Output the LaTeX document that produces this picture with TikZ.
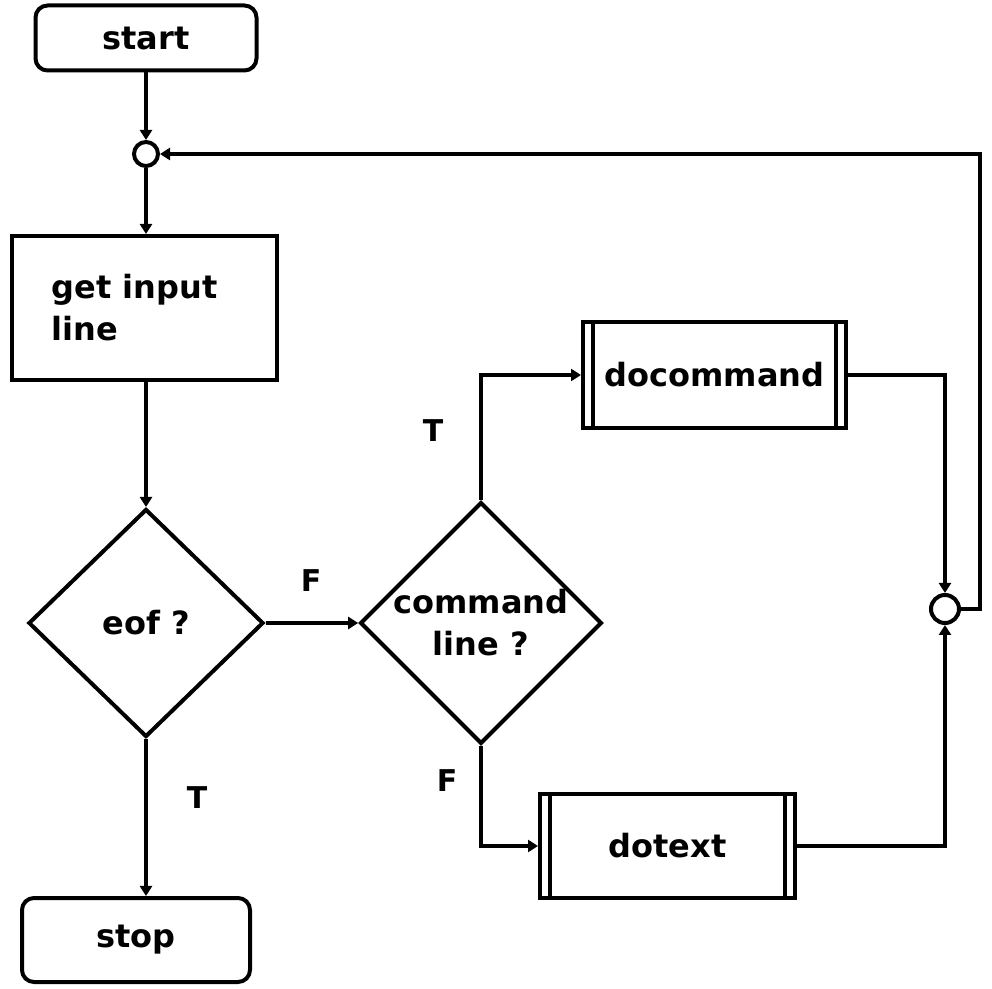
\documentclass[tikz,border=0pt]{standalone}
\usepackage{fontspec}
\setmainfont{DejaVu Sans}
\usetikzlibrary{shapes.geometric,arrows.meta}

\tikzset{
  every node/.style={font=\fontsize{16pt}{19pt}\selectfont\bfseries},
  base/.style={draw, line width=2pt, inner sep=0pt},
  terminal/.style={base, rectangle, rounded corners=6pt},
  process/.style={base, rectangle},
  decision/.style={base, diamond},
  joint/.style={base, circle, minimum size=12pt},
  subproc/.style={base, rectangle,
    append after command={
      \pgfextra{\draw[line width=1.6pt]
        ([xshift=6pt]\tikzlastnode.north west) -- ([xshift=6pt]\tikzlastnode.south west)
        ([xshift=-6pt]\tikzlastnode.north east) -- ([xshift=-6pt]\tikzlastnode.south east);}}},
  flow/.style={line width=2pt, -{Triangle[length=5pt,width=6pt]}},
  lbl/.style={font=\fontsize{15pt}{18pt}\selectfont\bfseries}
}

\begin{document}
\begin{tikzpicture}[x=0.5pt, y=-0.5pt]
  \useasboundingbox (0,0) rectangle (992,989);

  % nodes
  \node[terminal, minimum width=110.5pt, minimum height=32.5pt] (start) at (146,38) {start};
  \node[joint] (topjoin) at (146,154) {};
  \node[process, minimum width=132.5pt, minimum height=72pt, text width=92.5pt, align=left]
    (get) at (144.5,308) {get input\\[2pt]line};
  \node[decision, minimum width=117.5pt, minimum height=114pt] (eof) at (146,623) {eof ?};
  \node[decision, minimum width=120pt, minimum height=115pt, align=center] (cmd) at (481,623)
    {command\\[2pt]line ?};
  \node[subproc, minimum width=131.5pt, minimum height=53pt] (docmd) at (714.5,375) {docommand};
  \node[subproc, minimum width=127.5pt, minimum height=51.5pt] (dotext) at (667.5,846) {dotext};
  \node[joint, minimum size=14pt] (rjoin) at (945,609) {};
  \node[terminal, minimum width=114pt, minimum height=42pt] (stop) at (136,940) {stop};

  \coordinate (rloopbot) at (980,609);
  \coordinate (rlooptop) at (980,154);

  % connectors
  \draw[flow] (start) -- (topjoin);
  \draw[flow] (topjoin) -- (topjoin |- get.north);
  \draw[flow] (get.south -| eof.north) -- (eof.north);
  \draw[flow] (eof.south) -- (eof.south |- stop.north);
  \draw[flow] (eof.east) -- (cmd.west);
  \draw[flow] (cmd.north) |- (docmd.west);
  \draw[flow] (cmd.south) |- (dotext.west);
  \draw[flow] (docmd.east) -| (rjoin.north);
  \draw[flow] (dotext.east) -| (rjoin.south);
  \draw[flow] (rjoin.east) -- (rloopbot) -- (rlooptop) -- (topjoin.east);

  % branch labels
  \node[lbl] (lf1) at (311,581) {F};
  \node[lbl] (lt1) at (433,431) {T};
  \node[lbl] (lf2) at (447,781) {F};
  \node[lbl] (lt2) at (197,798) {T};
\end{tikzpicture}
\end{document}
